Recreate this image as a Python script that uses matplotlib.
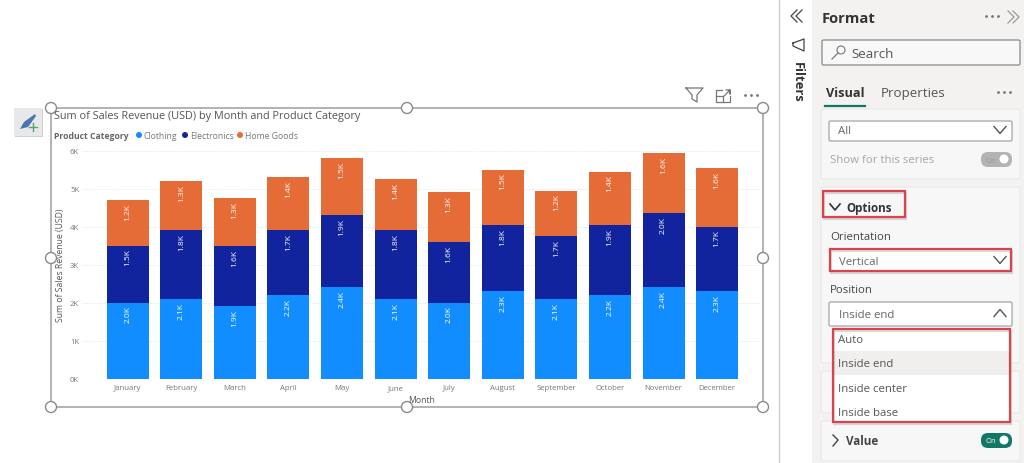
import numpy as np
from matplotlib import pyplot as plt
from matplotlib.patches import Rectangle, FancyBboxPatch, Circle, Polygon

plt.rcParams['font.family'] = ['Open Sans', 'DejaVu Sans']

months = ['January', 'February', 'March', 'April', 'May', 'June', 'July',
          'August', 'September', 'October', 'November', 'December']
clothing = [2000, 2100, 1900, 2200, 2400, 2100, 2000, 2300, 2100, 2200, 2400, 2300]
electronics = [1500, 1800, 1600, 1700, 1900, 1800, 1600, 1750, 1650, 1850, 1950, 1700]
home_goods = [1200, 1300, 1250, 1400, 1500, 1350, 1300, 1450, 1200, 1400, 1600, 1550]
clothing_labels = ['2.0K', '2.1K', '1.9K', '2.2K', '2.4K', '2.1K', '2.0K', '2.3K', '2.1K', '2.2K', '2.4K', '2.3K']
electronics_labels = ['1.5K', '1.8K', '1.6K', '1.7K', '1.9K', '1.8K', '1.6K', '1.8K', '1.7K', '1.9K', '2.0K', '1.7K']
home_labels = ['1.2K', '1.3K', '1.3K', '1.4K', '1.5K', '1.4K', '1.3K', '1.5K', '1.2K', '1.4K', '1.6K', '1.6K']
y_ticks = [0, 1000, 2000, 3000, 4000, 5000, 6000]
y_tick_labels = ['0K', '1K', '2K', '3K', '4K', '5K', '6K']

BLUE = '#118dff'
NAVY = '#12239e'
ORANGE = '#e66c37'
RED = '#d9444a'
W, H = 1024, 464

fig = plt.figure(figsize=(10.24, 4.64), dpi=100, facecolor='white')

# the chart itself, placed in pixels
left, right, top, bottom = 82, 760, 151.7, 379.5
ax = fig.add_axes([left / W, 1 - bottom / H, (right - left) / W, (bottom - top) / H])
x = np.arange(len(months))
bottoms = np.zeros(len(months))
series = [(clothing, BLUE, clothing_labels),
          (electronics, NAVY, electronics_labels),
          (home_goods, ORANGE, home_labels)]
for values, color, labels in series:
    ax.bar(x, values, 0.784, bottom=bottoms, color=color, zorder=3)
    tops = bottoms + np.array(values)
    for xi, ti, lab in zip(x, tops, labels):
        ax.annotate(lab, (xi, ti), xytext=(0, -2), textcoords='offset points',
                    rotation=90, ha='center', va='top', fontsize=6,
                    color='white', zorder=4)
    bottoms = tops
ax.set_xlim(-0.853, 11.8)
ax.set_ylim(0, 6000)
ax.set_yticks(y_ticks, y_tick_labels)
ax.set_xticks(x, months)
ax.tick_params(length=0, labelsize=5.6, labelcolor='#777777')
ax.tick_params(axis='x', pad=7.5)
ax.tick_params(axis='y', pad=2)
for t in ax.get_xticklabels():
    t.set_verticalalignment('baseline')
ax.grid(axis='y', linestyle=':', linewidth=0.6, color='#dedede', zorder=0)
for s in ax.spines.values():
    s.set_visible(False)
ax.patch.set_alpha(0)

# overlay in image pixels for the Power BI interface
ui = fig.add_axes([0, 0, 1, 1], zorder=5)
ui.set_xlim(0, W)
ui.set_ylim(H, 0)
ui.axis('off')


def txt(px, py, s, size=8, color='#444444', weight='normal', ha='left', rot=0):
    ui.text(px, py + 0.7, s, fontsize=size, color=color, fontweight=weight,
            ha=ha, va='center', rotation=rot, zorder=7)


def box(x0, y0, x1, y1, fc='white', ec='none', lw=1, z=2, rnd=0):
    if rnd:
        p = FancyBboxPatch((x0 + rnd, y0 + rnd), x1 - x0 - 2 * rnd, y1 - y0 - 2 * rnd,
                           boxstyle='round,pad=%g' % rnd, fc=fc, ec=ec, lw=lw, zorder=z)
    else:
        p = Rectangle((x0, y0), x1 - x0, y1 - y0, fc=fc, ec=ec, lw=lw, zorder=z)
    ui.add_patch(p)


def red_box(x0, y0, x1, y1, z=6):
    ui.add_patch(Rectangle((x0 + 1, y0 + 2), x1 - x0, y1 - y0, fc='none', ec='#888888',
                           lw=1.6, alpha=0.3, zorder=z - 1))
    box(x0, y0, x1, y1, fc='none', ec=RED, lw=1.6, z=z)


def chevron(cx, cy, up=False, w=6, h=3.5, color='#555555', lw=1):
    s = -1 if up else 1
    ui.plot([cx - w, cx, cx + w], [cy - s * h, cy + s * h, cy - s * h],
            color=color, lw=lw, zorder=6)


def double_left(cx, cy, color='#444444'):
    for off in (-3, 2):
        ui.plot([cx + off + 4, cx + off - 2, cx + off + 4], [cy - 6, cy, cy + 6],
                color=color, lw=0.9, zorder=6)


def double_right(cx, cy, color='#999999'):
    for off in (-3, 2):
        ui.plot([cx + off - 2, cx + off + 4, cx + off - 2], [cy - 6, cy, cy + 6],
                color=color, lw=0.9, zorder=6)


def dots(cx, cy, color='#777777'):
    ui.plot([cx - 6, cx, cx + 6], [cy, cy, cy], ls='none', marker='o', ms=1.0,
            color=color, zorder=6)


# selection frame and handles
box(51, 109, 763, 408, fc='none', ec='#a6a6a6', lw=1.2, z=3)
for hx, hy in [(51, 109), (407, 109), (763, 109), (51, 259), (763, 259),
               (51, 408), (407, 408), (763, 408)]:
    ui.add_patch(Circle((hx, hy), 5.5, fc='white', ec='#8a8a8a', lw=1, zorder=6))

# chart text
txt(54, 116, 'Sum of Sales Revenue (USD) by Month and Product Category', 7.85, '#555555')
txt(54, 136, 'Product Category', 6.2, '#666666', 'bold')
for dx, tx, name, col in [(139, 144, 'Clothing', BLUE), (185, 190, 'Electronics', NAVY),
                          (240, 245, 'Home Goods', ORANGE)]:
    ui.add_patch(Circle((dx, 136), 3, fc=col, ec='none', zorder=6))
    txt(tx, 136, name, 6.2, '#777777')
txt(60, 265, 'Sum of Sales Revenue (USD)', 6.2, '#555555', ha='center', rot=90)
txt(422, 400, 'Month', 6.2, '#555555', ha='center')

# pencil button
box(15, 110, 43, 138, fc='#d0d0d0', z=3)
box(14, 109, 42, 137, fc='#e8e8e8', z=3)
ui.add_patch(Polygon([[20, 130], [24, 123], [35, 115], [36, 117], [28, 128]],
                     fc='#4a76b8', ec='none', zorder=6))
ui.plot([33, 33], [124, 132], color='#5aa469', lw=1, zorder=6)
ui.plot([29, 37], [128, 128], color='#5aa469', lw=1, zorder=6)

# visual header icons
ui.plot([686, 703, 697, 697, 692, 692, 686], [89, 89, 96, 103, 100, 96, 89],
        color='#777777', lw=0.9, zorder=6)
ui.plot([722, 716, 716, 730, 730], [91, 91, 103, 103, 97], color='#777777', lw=0.9, zorder=6)
ui.plot([716, 723, 723], [97, 97, 103], color='#777777', lw=0.9, zorder=6)
ui.plot([724, 730, 730, 730, 726], [97, 91, 95, 91, 91], color='#777777', lw=0.9, zorder=6)
dots(751, 96)

# filters pane
ui.plot([779, 779], [0, H], color='#cfcfcf', lw=1, zorder=2)
double_left(796, 17)
ui.plot([793, 804, 804, 793, 793], [44, 40, 52, 47, 44], color='#444444', lw=0.9, zorder=6)
txt(797, 82, 'Filters', 9.4, '#333333', 'bold', ha='center', rot=-90)

# format pane
box(812, 0, W, H, fc='#f3f2f1', z=1)
txt(822, 18, 'Format', 10.6, '#333333', 'bold')
dots(992, 17)
double_right(1013, 18)
box(822, 41, 1020, 66, fc='#f8f8f8', ec='#888888', lw=0.9, rnd=1.5)
ui.add_patch(Circle((841, 51), 4, fc='none', ec='#777777', lw=0.8, zorder=6))
ui.plot([838, 832], [54, 60], color='#777777', lw=0.9, zorder=6)
txt(851, 54, 'Search', 9.6, '#555555')
txt(826, 93, 'Visual', 9.2, '#333333', 'bold')
ui.plot([825, 865], [107, 107], color='#117865', lw=1.6, zorder=6)
txt(881, 93, 'Properties', 9.6, '#555555')
dots(1004, 93)

# first card
box(821, 110, 1020, 180, fc='#f7f7f7', ec='#e6e6e6', lw=0.6, rnd=3)
box(829, 122, 1012, 142, fc='white', ec='#999999', lw=0.8, z=3, rnd=1.5)
txt(838, 131, 'All', 8.2, '#666666')
chevron(1000, 131)
txt(830, 160, 'Show for this series', 8.2, '#a6a6a6')
box(981, 153, 1012, 168, fc='#b3b3b3', z=3, rnd=7)
txt(985, 161, 'On', 5.5, '#999999')
ui.add_patch(Circle((1004, 160), 4.5, fc='white', ec='none', zorder=6))

# options card
box(821, 188, 1020, 364, fc='#f7f7f7', ec='#e6e6e6', lw=0.6, rnd=3)
red_box(823, 192, 905, 218)
chevron(835, 208, w=5, h=3, color='#333333', lw=1.2)
txt(846, 208, 'Options', 8.4, '#333333', 'bold')
txt(830, 237, 'Orientation', 8.2, '#444444')
box(830, 250, 1011, 272, fc='white', z=3)
red_box(830, 250, 1011, 272)
txt(839, 262, 'Vertical', 8.2, '#666666')
chevron(1000, 261)
txt(830, 290, 'Position', 8.2, '#444444')
box(829, 303, 1012, 327, fc='white', ec='#999999', lw=0.8, z=3, rnd=1.5)
txt(839, 315, 'Inside end', 8.2, '#666666')
chevron(1000, 314, up=True)

# lower cards
box(821, 372, 1020, 414, fc='#f7f7f7', ec='#e6e6e6', lw=0.6, rnd=3)
box(821, 422, 1020, 462, fc='#f7f7f7', ec='#e6e6e6', lw=0.6, rnd=3)
ui.plot([833, 838, 833], [436, 441, 447], color='#444444', lw=1, zorder=6)
txt(846, 441, 'Value', 8.4, '#444444', 'bold')
box(981, 434, 1012, 449, fc='#117865', z=3, rnd=7)
txt(985, 441, 'On', 5.5, 'white')
ui.add_patch(Circle((1004, 441), 4.5, fc='white', ec='none', zorder=6))

# dropdown list
box(833, 330, 1010, 423, fc='white', z=5)
box(834, 352, 1009, 376, fc='#f0efee', z=5)
red_box(833, 330, 1010, 423)
for py, name in [(340, 'Auto'), (364, 'Inside end'), (389, 'Inside center'), (413, 'Inside base')]:
    txt(838, py, name, 8.2, '#555555')

fig.savefig('out.png', dpi=100)
